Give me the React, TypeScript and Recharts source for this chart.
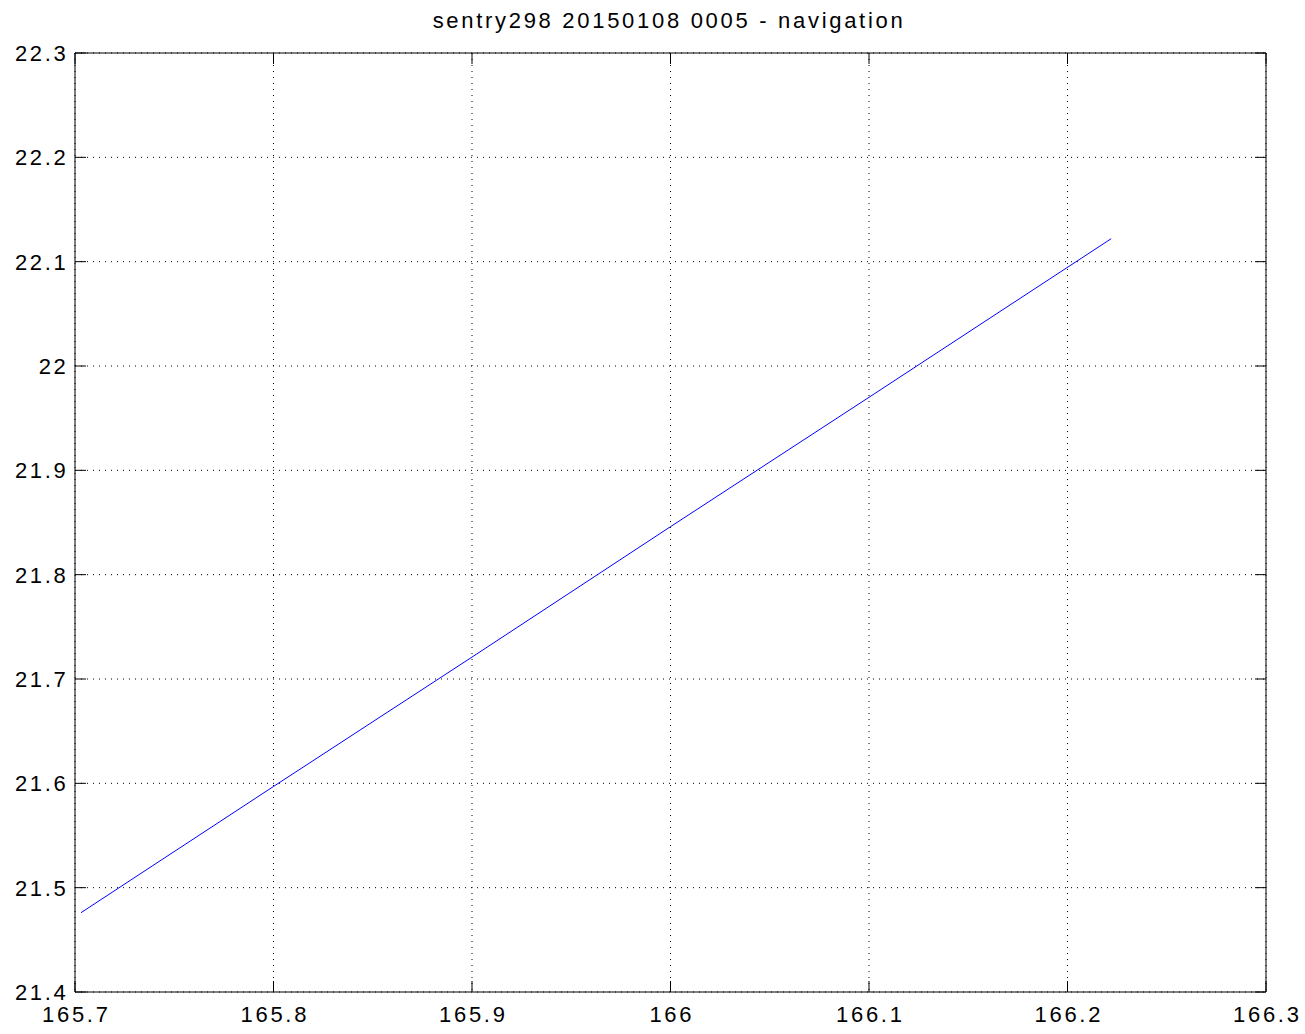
import React from 'react';
import { LineChart, Line, XAxis, YAxis, CartesianGrid } from 'recharts';

// navigation track (longitude, latitude)
const LON = [165.703, 165.8, 165.9, 166.0, 166.1, 166.222];
const LAT = [21.476, 21.597, 21.721, 21.846, 21.97, 22.122];

const X_TICKS = [165.7, 165.8, 165.9, 166, 166.1, 166.2, 166.3];
const Y_TICKS = [21.4, 21.5, 21.6, 21.7, 21.8, 21.9, 22, 22.1, 22.2, 22.3];

const TITLE = 'sentry298 20150108 0005 - navigation';

const data = LON.map((lon, i) => ({ lon, lat: LAT[i] }));

const FONT = '"Liberation Sans", Arial, Helvetica, sans-serif';
const TICK_LEN = 11;
const fmt = (v: number) => String(+Number(v).toFixed(1));

// matlab style: tick marks point into the plot box
// tickSize is 0, so p.x / p.y sit tickMargin away from the axis line
const BottomTick = (p: any) => {
  const y0 = p.y - 10;
  return (
    <g>
      <line x1={p.x} x2={p.x} y1={y0} y2={y0 - TICK_LEN} stroke="#000" />
      <text x={p.x + 1.3} y={y0 + 30} textAnchor="middle" fill="#000" fontSize={22} fontFamily={FONT} letterSpacing={2.7}>
        {fmt(p.payload.value)}
      </text>
    </g>
  );
};

const LeftTick = (p: any) => {
  const x0 = p.x + 10;
  return (
    <g>
      <line x1={x0} x2={x0 + TICK_LEN} y1={p.y} y2={p.y} stroke="#000" />
      <text x={x0 - 6.5} y={p.y} dy={8} textAnchor="end" fill="#000" fontSize={22} fontFamily={FONT} letterSpacing={2.7}>
        {fmt(p.payload.value)}
      </text>
    </g>
  );
};

const TopTick = (p: any) => <line x1={p.x} x2={p.x} y1={p.y} y2={p.y + TICK_LEN} stroke="#000" />;

const RightTick = (p: any) => <line x1={p.x} x2={p.x - TICK_LEN} y1={p.y} y2={p.y} stroke="#000" />;

export default function App() {
  return (
    <div style={{ position: 'absolute', left: 0, top: 0, width: 1305, height: 1034, background: '#fff' }}>
      <div
        style={{
          position: 'absolute',
          left: 0,
          top: 8,
          width: 1338,
          textAlign: 'center',
          fontFamily: FONT,
          fontSize: 22,
          letterSpacing: 2.7,
          color: '#000',
        }}
      >
        {TITLE}
      </div>
      <LineChart
        width={1305}
        height={1034}
        data={data}
        margin={{ top: 52, right: 38, bottom: 0, left: 0 }}
        style={{ position: 'absolute', left: 0, top: 0 }}
      >
        <CartesianGrid
          xAxisId="b"
          yAxisId="l"
          stroke="#000"
          strokeDasharray="1 5"
          horizontalValues={Y_TICKS}
          verticalValues={X_TICKS}
        />
        <XAxis
          xAxisId="b"
          dataKey="lon"
          type="number"
          domain={[165.7, 166.3]}
          ticks={X_TICKS}
          height={42}
          tickSize={0}
          tickMargin={10}
          tickLine={false}
          interval={0}
          allowDataOverflow
          stroke="#000"
          tick={BottomTick}
        />
        <XAxis
          xAxisId="t"
          orientation="top"
          dataKey="lon"
          type="number"
          domain={[165.7, 166.3]}
          ticks={X_TICKS}
          height={1}
          tickSize={0}
          tickMargin={0}
          tickLine={false}
          interval={0}
          allowDataOverflow
          stroke="#000"
          tick={TopTick}
        />
        <YAxis
          yAxisId="l"
          dataKey="lat"
          type="number"
          domain={[21.4, 22.3]}
          ticks={Y_TICKS}
          width={75}
          tickSize={0}
          tickMargin={10}
          tickLine={false}
          interval={0}
          allowDataOverflow
          stroke="#000"
          tick={LeftTick}
        />
        <YAxis
          yAxisId="r"
          orientation="right"
          dataKey="lat"
          type="number"
          domain={[21.4, 22.3]}
          ticks={Y_TICKS}
          width={1}
          tickSize={0}
          tickMargin={0}
          tickLine={false}
          interval={0}
          allowDataOverflow
          stroke="#000"
          tick={RightTick}
        />
        <Line
          xAxisId="b"
          yAxisId="l"
          type="linear"
          dataKey="lat"
          stroke="#0000ff"
          strokeWidth={1}
          dot={false}
          isAnimationActive={false}
        />
      </LineChart>
    </div>
  );
}
